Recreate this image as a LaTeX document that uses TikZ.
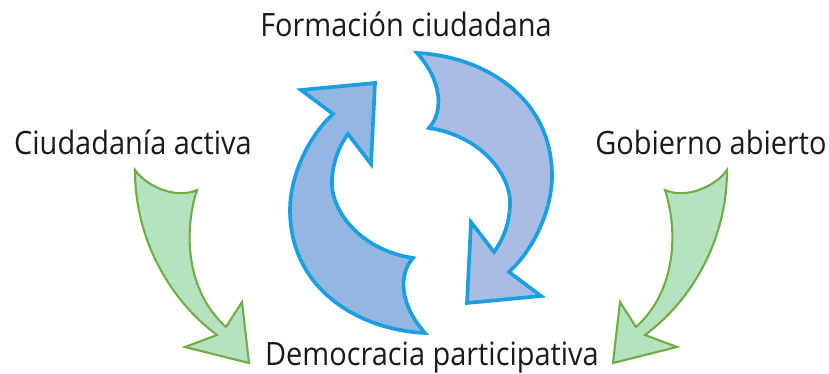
\documentclass[tikz,border=0pt]{standalone}
\usepackage{fontspec}
\setmainfont{Open Sans}[FakeStretch=0.9]
\usepackage{tikz}

\definecolor{bluerim}{RGB}{26,159,224}
\definecolor{bluedark}{RGB}{147,183,224}
\definecolor{bluelight}{RGB}{169,189,228}
\definecolor{greenrim}{RGB}{112,173,71}
\definecolor{greenfill}{RGB}{181,227,192}
\definecolor{textgray}{RGB}{26,26,26}

\tikzset{
  cyclearrow/.style={draw=bluerim, line width=2.1pt},
  sidearrow/.style={draw=greenrim, fill=greenfill, line width=1.2pt},
  caption/.style={anchor=base, inner sep=0pt, text=textgray, font=\fontsize{18.3}{20}\selectfont}
}

\begin{document}
\begin{tikzpicture}[x=0.02cm, y=-0.02cm]
\useasboundingbox (0,0) rectangle (829,374);

% the two blue arrows of the cycle
\foreach \ang/\col in {0/bluedark, 180/bluelight}
\draw [cyclearrow, fill=\col, rotate around={\ang:(421,193)}] (375,83) -- (301,90) -- (333,114)
  .. controls (305,140) and (290,180) .. (290,210)
  .. controls (290,290) and (360,330) .. (425,333)
  .. controls (400,305) and (398,275) .. (413,258)
  .. controls (360,250) and (330,210) .. (332,180)
  .. controls (333,160) and (340,145) .. (348,134)
  -- (371,164) -- cycle;

% the two green arrows
\foreach \s/\m in {0/1, 862/-1}
\draw [sidearrow, shift={(\s,0)}, xscale=\m] (135,170)
  .. controls (145,185) and (175,200) .. (197,190)
  .. controls (184,230) and (185,290) .. (226,327)
  -- (242,302) -- (249,363) -- (185,347) -- (217,335)
  .. controls (170,300) and (135,240) .. (135,170) -- cycle;

    \node[caption] (formacion) at (406,36.7) {Formación ciudadana};
    \node[caption] (ciudadania) at (133,155) {Ciudadanía activa};
    \node[caption] (gobierno) at (711,155) {Gobierno abierto};
    \node[caption] (democracia) at (432,366) {Democracia participativa};

\end{tikzpicture}
\end{document}
